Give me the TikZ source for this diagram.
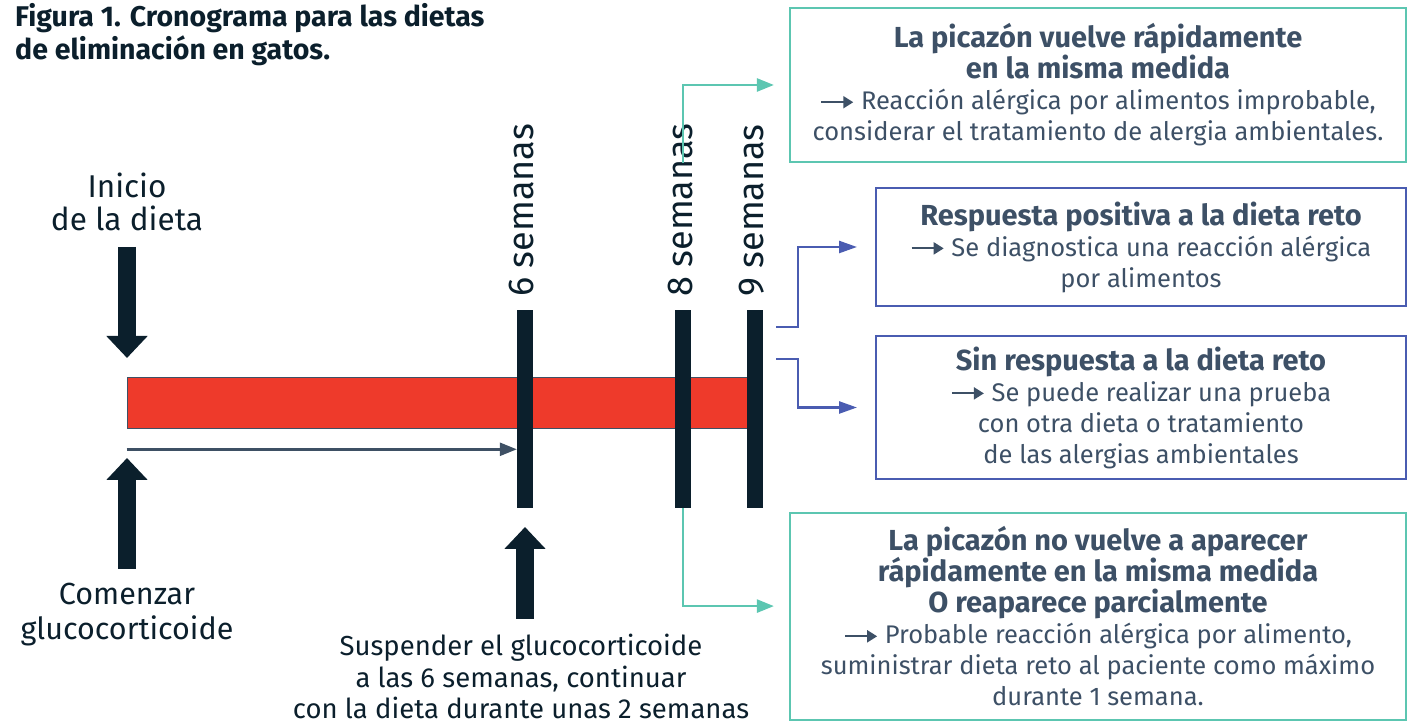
\documentclass[tikz,border=0pt]{standalone}
\usepackage{fontspec}
\setmainfont{Fira Sans}
\usetikzlibrary{arrows.meta, calc, positioning}

\definecolor{cNavy}{HTML}{0B1F2C}
\definecolor{cTexto}{HTML}{3D5066}
\definecolor{cRojo}{HTML}{EE3A2B}
\definecolor{cVerde}{HTML}{5CC6B1}
\definecolor{cAzul}{HTML}{4A5CB1}
\definecolor{cGris}{HTML}{3E5064}

\newcommand{\flecha}{\tikz[baseline=-0.3em]\draw[color=cTexto,line width=2pt,-{Triangle[length=10pt,width=12pt]}] (0pt,0pt) -- (32pt,0pt);}
\newcommand{\titcaja}[1]{{\bfseries\fontsize{29}{31}\selectfont #1}}

\begin{document}
\begin{tikzpicture}
[
	x=1pt, y=1pt,
	lbl/.style={text=cNavy, font=\fontsize{31.5}{33}\selectfont, align=center, inner sep=0},
	sem/.style={text=cNavy, font=\fontsize{36}{38}\selectfont, rotate=90, anchor=base west, inner sep=0},
	barra/.style={fill=cNavy, minimum width=16pt, minimum height=198pt, inner sep=0},
	flechota/.style={cNavy, line width=18pt, -{Triangle[length=22pt,width=40pt]}},
	caja/.style={draw, line width=2.2pt, text=cTexto, align=center, inner sep=0, font=\fontsize{25.5}{31}\selectfont},
	verde/.style={cVerde, line width=2.5pt, -{Triangle[length=17pt,width=13pt]}},
	azul/.style={cAzul, line width=2.5pt, -{Triangle[length=18pt,width=12pt]}}
]

\useasboundingbox (0,0) rectangle (1413,725);

% titulo
\node[anchor=west, text=cNavy, align=left, inner sep=0, font=\bfseries\fontsize{28.5}{33}\selectfont] (titulo) at (15,690)
	{Figura 1. Cronograma para las dietas\\de eliminación en gatos.};

% linea de tiempo
\node[draw=cGris, line width=0.6pt, fill=cRojo, minimum width=628pt, minimum height=51pt, inner sep=0] (dieta) at (441,322.5) {};

\node[barra] (bar6) at (525,316) {};
\node[barra] (bar8) at (683,316) {};
\node[barra] (bar9) at (755,316) {};

\node[sem] (lab6) at (533,428) {6 semanas};
\node[sem] (lab8) at (692,428) {8 semanas};
\node[sem] (lab9) at (763,428) {9 semanas};

\coordinate (t0) at ([yshift=-21pt]dieta.south west);
\draw[cGris, line width=2.5pt, -{Triangle[length=17pt,width=13pt]}] (t0) -- (t0 -| bar6.west);

% etiquetas izquierda
\node[lbl] (inicio) at (127,523) {Inicio\\de la dieta};
\node[lbl, font=\fontsize{30.5}{35}\selectfont] (comenzar) at (127,110.5) {Comenzar\\glucocorticoide};
\node[lbl, font=\fontsize{27.5}{31.5}\selectfont] (suspender) at (521,48.5)
	{Suspender el glucocorticoide\\a las 6 semanas, continuar\\con la dieta durante unas 2 semanas};

\draw[flechota] (127,478) -- (127,367);
\draw[flechota] (127,156) -- (127,267);
\draw[flechota] (525,106) -- (525,198);

% resultados
\node[caja, draw=cVerde, minimum width=616pt, minimum height=154pt] (picaSi) at (1098,640)
	{\titcaja{La picazón vuelve rápidamente}\\\titcaja{en la misma medida}\\
	\flecha\ Reacción alérgica por alimentos improbable,\\considerar el tratamiento de alergia ambientales.};
\node[caja, draw=cAzul, line width=2pt, minimum width=530pt, minimum height=118pt] (positiva) at (1141,478)
	{\titcaja{Respuesta positiva a la dieta reto}\\\flecha\ Se diagnostica una reacción alérgica\\por alimentos};
\node[caja, draw=cAzul, line width=2pt, minimum width=530pt, minimum height=143pt] (sinResp) at (1141,317.5)
	{\titcaja{Sin respuesta a la dieta reto}\\\flecha\ Se puede realizar una prueba\\con otra dieta o tratamiento\\de las alergias ambientales};
\node[caja, draw=cVerde, minimum width=616pt, minimum height=207pt] (picaNo) at (1098,108.5)
	{\titcaja{La picazón no vuelve a aparecer}\\\titcaja{rápidamente en la misma medida}\\\titcaja{O reaparece parcialmente}\\
	\flecha\ Probable reacción alérgica por alimento,\\suministrar dieta reto al paciente como máximo\\durante 1 semana.};

\draw[verde] ([yshift=147pt]bar8.north) |- ([xshift=-15pt]picaSi.west);
\draw[verde] (bar8.south) |- ($(picaNo.south west)+(-15,115)$);

\draw[azul] ([xshift=13pt,yshift=82pt]bar9.east) -- ++(22,0) |- ([xshift=-18pt]positiva.west);
\draw[azul] ([xshift=13pt,yshift=50pt]bar9.east) -- ++(22,0) |- ([xshift=-18pt]sinResp.west);

\end{tikzpicture}
\end{document}
